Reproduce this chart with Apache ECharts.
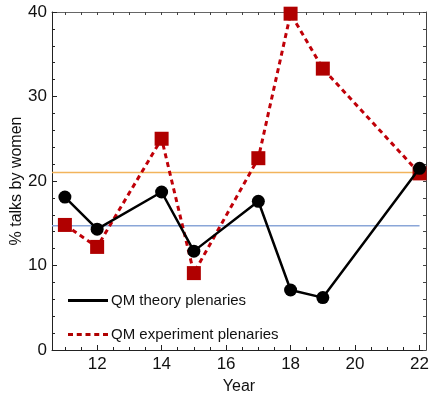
<!DOCTYPE html>
<html>
<head>
<meta charset="utf-8">
<script src="https://cdn.jsdelivr.net/npm/echarts@6/dist/echarts.min.js"></script>
<style>
  html, body { margin: 0; padding: 0; background: #fff; }
  #main { width: 433px; height: 396px; }
</style>
</head>
<body>
<div id="main"></div>
<script>
// data
var years = [11, 12, 14, 15, 17, 18, 19, 22];
var theory = [18.1, 14.3, 18.7, 11.7, 17.6, 7.1, 6.2, 21.5];
var experiment = [14.8, 12.2, 25.0, 9.1, 22.7, 39.8, 33.3, 20.9];
var orangeLevel = 21.0;
var blueLevel = 14.7;
var xLabels = [12, 14, 16, 18, 20, 22];
var xMinorTicks = [11, 11.5, 12, 12.5, 13, 13.5, 14, 14.5, 15, 15.5, 16, 16.5, 17, 17.5, 18, 18.5, 19, 19.5, 20, 20.5, 21, 21.5, 22];
var xMin = 10.6, xMax = 22.2;

function pairs(xs, ys) {
    return xs.map(function (x, i) { return [x, ys[i]]; });
}

var font = 'Liberation Sans';
var myChart = echarts.init(document.getElementById('main'));
option = {
    animation: false,
    textStyle: { fontFamily: font },
    grid: { left: 52, right: 7, top: 12, bottom: 46, containLabel: false, outerBoundsMode: 'none' },
    legend: {
        orient: 'vertical',
        left: 68,
        top: 293,
        padding: 0,
        itemWidth: 40,
        itemHeight: 3,
        itemGap: 19,
        textStyle: { fontSize: 15, color: '#111', fontFamily: font, padding: [0, 0, 0, -2] },
        data: [
            { name: 'QM theory plenaries', icon: 'path://M0,0h40v3h-40z' },
            { name: 'QM experiment plenaries', icon: 'path://M0,0h5v3h-5z M8.75,0h5v3h-5z M17.5,0h5v3h-5z M26.25,0h5v3h-5z M35,0h5v3h-5z' }
        ]
    },
    xAxis: [{
        type: 'value', position: 'bottom', min: xMin, max: xMax,
        name: 'Year', nameLocation: 'middle', nameGap: 29, nameMoveOverlap: false,
        nameTextStyle: { fontSize: 16, color: '#111', fontFamily: font },
        axisLine: { lineStyle: { color: '#222' } },
        axisTick: { inside: true, length: 5, customValues: xLabels, lineStyle: { color: '#222' } },
        axisLabel: { customValues: xLabels, fontSize: 17, color: '#111', margin: 6, fontFamily: font },
        splitLine: { show: false }
    }, {
        type: 'value', position: 'bottom', min: xMin, max: xMax,
        axisLine: { show: false },
        axisTick: { inside: true, length: 3, customValues: xMinorTicks, lineStyle: { color: '#222' } },
        axisLabel: { show: false },
        splitLine: { show: false }
    }, {
        type: 'value', position: 'top', min: xMin, max: xMax,
        axisLine: { lineStyle: { color: '#666' } },
        axisTick: { inside: true, length: 3, customValues: xMinorTicks, lineStyle: { color: '#444' } },
        axisLabel: { show: false },
        splitLine: { show: false }
    }],
    yAxis: [{
        type: 'value', position: 'left', min: 0, max: 40, interval: 10,
        name: '% talks by women', nameLocation: 'middle', nameGap: 27, nameMoveOverlap: false,
        nameTextStyle: { fontSize: 16, color: '#111', fontFamily: font },
        axisLine: { show: true, lineStyle: { color: '#222' } },
        axisTick: { show: true, inside: true, length: 5, lineStyle: { color: '#222' } },
        minorTick: { show: true, splitNumber: 5, length: 3, lineStyle: { color: '#222' } },
        axisLabel: { fontSize: 17, color: '#111', margin: 5, fontFamily: font },
        splitLine: { show: false }
    }, {
        type: 'value', position: 'right', min: 0, max: 40, interval: 2,
        axisLine: { show: true, lineStyle: { color: '#444' } },
        axisTick: { show: true, inside: true, length: 3, lineStyle: { color: '#444' } },
        axisLabel: { show: false },
        splitLine: { show: false }
    }],
    series: [
        {
            name: 'orange', type: 'line', silent: true, symbol: 'none', z: 1,
            data: [[xMin, orangeLevel], [xMax, orangeLevel]],
            lineStyle: { color: '#f2b45c', width: 1.5 }
        },
        {
            name: 'blue', type: 'line', silent: true, symbol: 'none', z: 1,
            data: [[xMin, blueLevel], [22, blueLevel]],
            lineStyle: { color: '#8aa6d8', width: 1.5 }
        },
        {
            name: 'QM experiment plenaries', type: 'line', z: 2,
            data: pairs(years, experiment),
            symbol: 'rect', symbolSize: 14,
            itemStyle: { color: '#b00000' },
            lineStyle: { color: '#c00008', width: 3, type: [5, 4] }
        },
        {
            name: 'QM theory plenaries', type: 'line', z: 3,
            data: pairs(years, theory),
            symbol: 'circle', symbolSize: 13,
            itemStyle: { color: '#000' },
            lineStyle: { color: '#000', width: 2.5 }
        }
    ]
};
myChart.setOption(option);
</script>
</body>
</html>
